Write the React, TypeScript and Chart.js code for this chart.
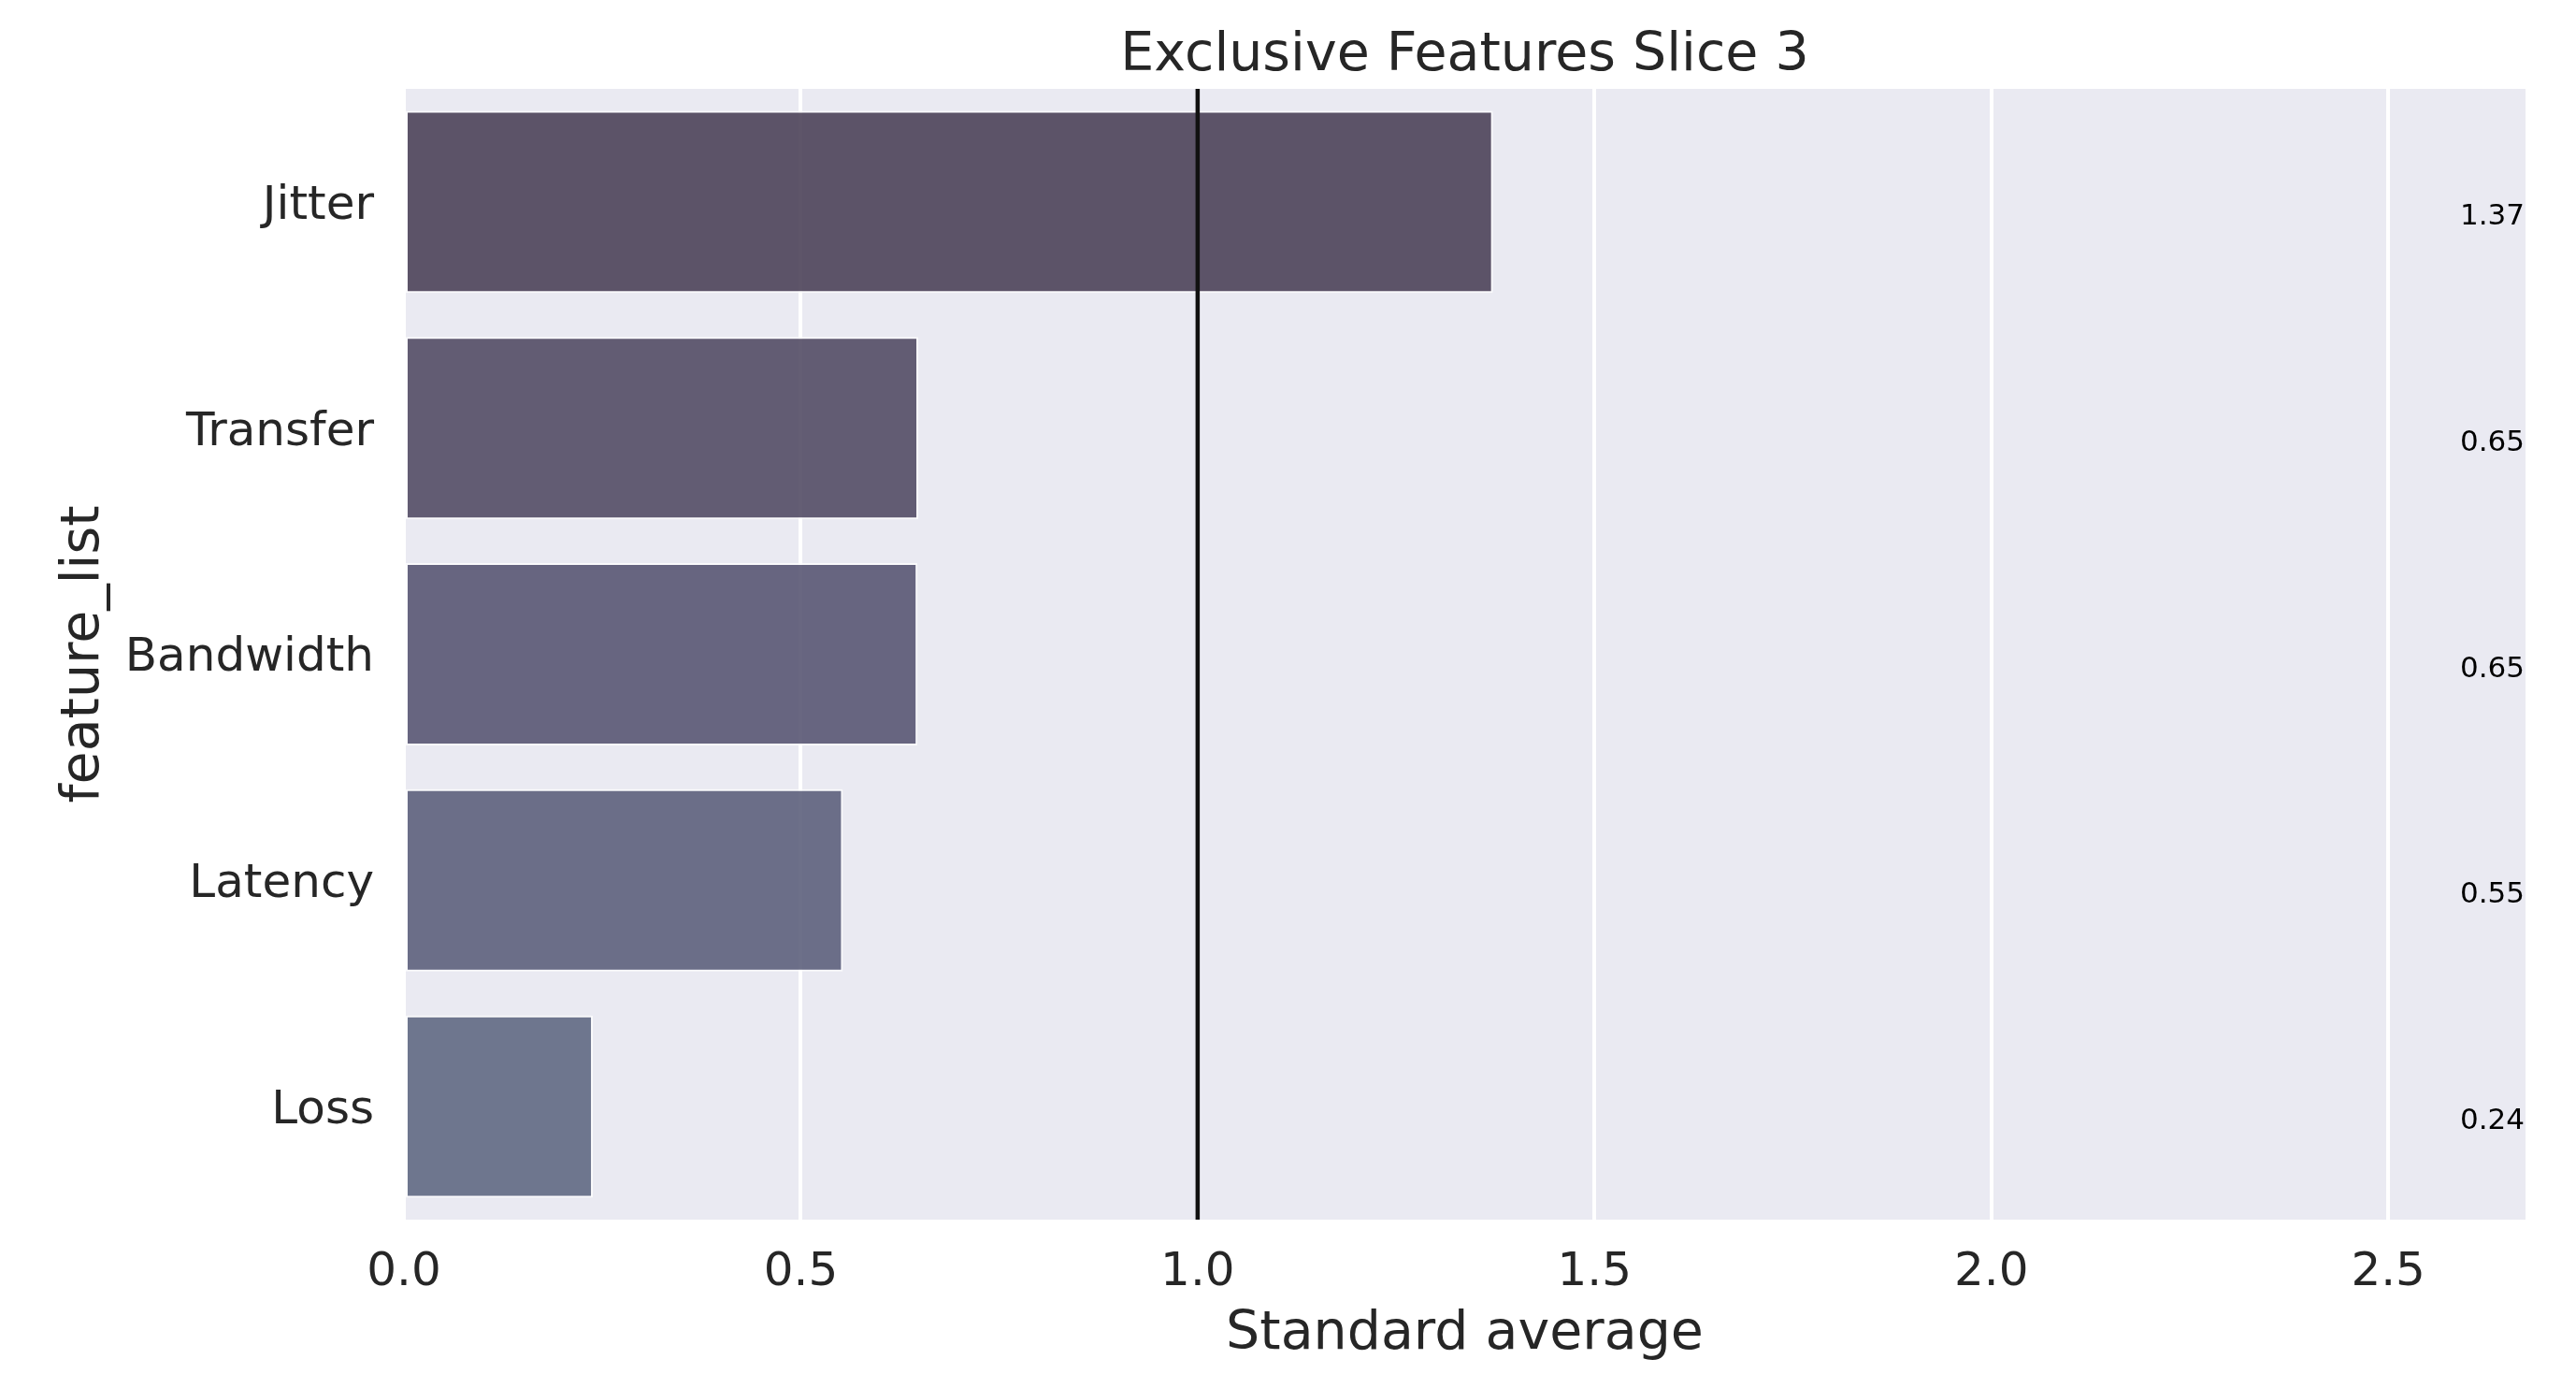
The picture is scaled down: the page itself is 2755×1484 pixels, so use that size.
import React, { useEffect, useRef } from "react";
import { Chart, registerables } from "chart.js";

Chart.register(...registerables);

const categories = ["Jitter", "Transfer", "Bandwidth", "Latency", "Loss"];
const values = [1.372, 0.648, 0.647, 0.553, 0.238];
const barColors = [
  "rgba(76,67,89,0.9)",
  "rgba(83,76,101,0.9)",
  "rgba(89,87,115,0.9)",
  "rgba(93,97,124,0.9)",
  "rgba(97,105,131,0.9)",
];
const xTickValues = [0, 0.5, 1.0, 1.5, 2.0, 2.5];
const xMin = 0;
const xMax = 2.673;
const referenceValue = 1.0;
const titleText = "Exclusive Features Slice 3";
const xLabelText = "Standard average";
const yLabelText = "feature_list";

const W = 2755;
const H = 1484;
const FONT = "'DejaVu Sans', 'Liberation Sans', sans-serif";
const TEXT = "#262626";

export default function App() {
  const ref = useRef<HTMLCanvasElement | null>(null);

  useEffect(() => {
    document.body.style.margin = "0";
    const canvas = ref.current!;
    const decor = {
      id: "decor",
      beforeDraw(chart: any) {
        const { ctx, chartArea: a } = chart;
        ctx.save();
        ctx.fillStyle = "#ffffff";
        ctx.fillRect(0, 0, W, H);
        ctx.fillStyle = "#EAEAF2";
        ctx.fillRect(a.left, a.top, a.right - a.left, a.bottom - a.top);
        ctx.restore();
      },
      afterDatasetsDraw(chart: any) {
        const { ctx, chartArea: a, scales } = chart;
        const x = scales.x.getPixelForValue(referenceValue);
        ctx.save();
        ctx.strokeStyle = "#111111";
        ctx.lineWidth = 4.5;
        ctx.beginPath();
        ctx.moveTo(x, a.top);
        ctx.lineTo(x, a.bottom);
        ctx.stroke();
        ctx.restore();
      },
      afterDraw(chart: any) {
        const { ctx, chartArea: a, scales } = chart;
        ctx.save();
        // value labels
        ctx.fillStyle = "#000000";
        ctx.font = `31px ${FONT}`;
        ctx.textAlign = "right";
        ctx.textBaseline = "alphabetic";
        values.forEach((v, i) => {
          const y = scales.y.getPixelForValue(i);
          ctx.fillText(v.toFixed(2), a.right - 1, y + 24);
        });
        // title
        const cx = (a.left + a.right) / 2;
        ctx.fillStyle = TEXT;
        ctx.font = `57px ${FONT}`;
        ctx.textAlign = "center";
        ctx.fillText(titleText, cx, 75);
        // x label
        ctx.fillText(xLabelText, cx, 1442);
        // y label
        ctx.translate(105, (a.top + a.bottom) / 2);
        ctx.rotate(-Math.PI / 2);
        ctx.fillText(yLabelText, 0, 0);
        ctx.restore();
      },
    };

    const chart = new Chart(canvas, {
      type: "bar",
      data: {
        labels: categories,
        datasets: [
          {
            data: values,
            backgroundColor: barColors,
            borderColor: "rgba(255,255,255,0.75)",
            borderWidth: 2,
            borderSkipped: false,
            barPercentage: 0.806,
            categoryPercentage: 1.0,
          },
        ],
      },
      options: {
        indexAxis: "y",
        responsive: false,
        animation: false,
        devicePixelRatio: 1,
        layout: { padding: { top: 95, right: 54, left: 0, bottom: 0 } },
        plugins: {
          legend: { display: false },
          title: { display: false },
          tooltip: { enabled: false },
        },
        scales: {
          x: {
            type: "linear",
            min: xMin,
            max: xMax,
            afterBuildTicks: (s: any) => {
              s.ticks = xTickValues.map((v) => ({ value: v }));
            },
            afterFit: (s: any) => {
              s.height = H - 1304;
            },
            ticks: {
              includeBounds: false,
              padding: 27,
              color: TEXT,
              font: { family: FONT, size: 50 },
              callback: (v: any) => Number(v).toFixed(1),
              maxRotation: 0,
              autoSkip: false,
            },
            grid: { color: "#ffffff", lineWidth: 4, drawTicks: false },
            border: { display: false },
          },
          y: {
            type: "category",
            afterFit: (s: any) => {
              s.width = 432;
            },
            ticks: {
              padding: 32,
              labelOffset: 5,
              color: TEXT,
              font: { family: FONT, size: 50 },
              autoSkip: false,
            },
            grid: { display: false, drawTicks: false },
            border: { display: false },
          },
        },
      },
      plugins: [decor],
    } as any);
    return () => chart.destroy();
  }, []);

  return (
    <div style={{ position: "absolute", left: 0, top: 0, width: W, height: H }}>
      <canvas ref={ref} width={W} height={H} style={{ width: W, height: H, display: "block" }} />
    </div>
  );
}
